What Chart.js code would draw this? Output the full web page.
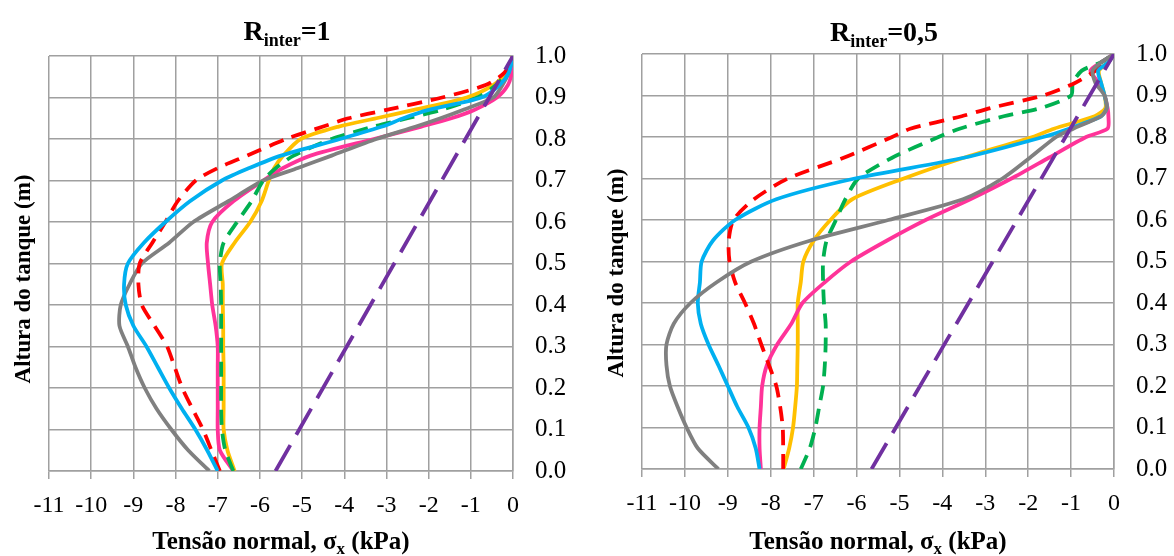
<!DOCTYPE html>
<html>
<head>
<meta charset="utf-8">
<script src="https://cdn.jsdelivr.net/npm/chart.js@4.4.0/dist/chart.umd.min.js"></script>
<style>
  body { margin: 0; background: #fff; }
  .box { position: absolute; top: 0; height: 556px; }
</style>
</head>
<body>
<div class="box" style="left:0;width:590px"><canvas id="chartLeft" width="590" height="556"></canvas></div>
<div class="box" style="left:590px;width:584px"><canvas id="chartRight" width="584" height="556"></canvas></div>
<script>
// tick labels
const xTickLabels = ['-11', '-10', '-9', '-8', '-7', '-6', '-5', '-4', '-3', '-2', '-1', '0'];
const yTickLabels = ['0.0', '0.1', '0.2', '0.3', '0.4', '0.5', '0.6', '0.7', '0.8', '0.9', '1.0'];

// R_inter = 1 (left chart): heights (m) and stress (kPa) per series
const heightsLeft = [0, 0.05, 0.1, 0.15, 0.2, 0.25, 0.3, 0.35, 0.4, 0.45, 0.5, 0.55, 0.6, 0.65, 0.7, 0.73, 0.76, 0.8, 0.83, 0.85, 0.87, 0.9, 0.93, 0.96, 1.0];
const redLeft    = [-6.95, -7.15, -7.35, -7.6, -7.84, -8.02, -8.2, -8.5, -8.8, -8.88, -8.85, -8.55, -8.24, -7.95, -7.52, -7.0, -6.3, -5.38, -4.5, -3.9, -3.0, -1.68, -0.65, -0.2, 0];
const cyanLeft   = [-7.0, -7.25, -7.53, -7.85, -8.15, -8.42, -8.69, -9.0, -9.18, -9.22, -9.13, -8.75, -8.24, -7.66, -6.9, -6.25, -5.5, -4.1, -3.1, -2.6, -2.0, -0.75, -0.32, -0.1, 0];
const grayLeft   = [-7.2, -7.7, -8.1, -8.45, -8.73, -8.95, -9.13, -9.33, -9.3, -9.09, -8.8, -8.15, -7.58, -6.75, -5.92, -5.1, -4.3, -3.24, -2.3, -1.72, -1.19, -0.47, -0.25, -0.1, 0];
const greenLeft  = [-6.63, -6.82, -6.9, -6.92, -6.92, -6.92, -6.92, -6.92, -6.92, -6.93, -6.95, -6.86, -6.54, -6.2, -5.92, -5.62, -5.2, -4.3, -3.3, -2.5, -1.7, -0.85, -0.4, -0.15, 0];
const orangeLeft = [-6.6, -6.77, -6.86, -6.86, -6.86, -6.86, -6.87, -6.87, -6.88, -6.88, -6.9, -6.6, -6.23, -5.96, -5.79, -5.66, -5.45, -5.03, -4.13, -3.24, -2.35, -1.1, -0.47, -0.15, 0];
const pinkLeft   = [-6.63, -6.95, -7.0, -7.0, -7.0, -7.0, -7.0, -7.05, -7.13, -7.18, -7.23, -7.26, -7.13, -6.63, -5.92, -5.45, -4.8, -3.3, -2.17, -1.46, -0.92, -0.38, -0.12, -0.03, 0];
const purpleLeftX = [-5.63, 0];
const purpleLeftY = [0, 1.0];

// R_inter = 0,5 (right chart)
const heightsRight = [0, 0.05, 0.1, 0.15, 0.2, 0.25, 0.3, 0.35, 0.4, 0.45, 0.5, 0.55, 0.6, 0.65, 0.7, 0.75, 0.8, 0.82, 0.85, 0.87, 0.9, 0.93, 0.96, 0.98, 1.0];
const redRight    = [-7.71, -7.71, -7.72, -7.78, -7.87, -8.04, -8.22, -8.39, -8.6, -8.83, -8.96, -8.98, -8.87, -8.39, -7.6, -6.3, -5.17, -4.75, -3.55, -2.87, -1.65, -0.91, -0.43, -0.2, 0];
const greenRight  = [-7.3, -7.09, -6.96, -6.87, -6.78, -6.74, -6.72, -6.72, -6.76, -6.78, -6.78, -6.7, -6.48, -6.26, -5.96, -5.17, -4.09, -3.6, -2.57, -1.7, -1.0, -0.96, -0.75, -0.3, 0];
const orangeRight = [-7.7, -7.57, -7.48, -7.43, -7.39, -7.38, -7.37, -7.37, -7.37, -7.3, -7.24, -7.0, -6.61, -6.1, -4.9, -3.5, -1.9, -1.4, -0.45, -0.2, -0.22, -0.3, -0.35, -0.13, 0];
const cyanRight   = [-8.26, -8.35, -8.52, -8.78, -9.0, -9.22, -9.45, -9.63, -9.7, -9.65, -9.61, -9.35, -8.83, -7.87, -6.04, -3.5, -1.65, -1.05, -0.3, -0.17, -0.22, -0.3, -0.37, -0.13, 0];
const grayRight   = [-9.22, -9.7, -9.96, -10.17, -10.35, -10.43, -10.43, -10.26, -9.87, -9.26, -8.45, -7.09, -5.26, -3.52, -2.6, -1.96, -1.35, -0.95, -0.3, -0.17, -0.22, -0.43, -0.5, -0.3, 0];
const pinkRight   = [-8.23, -8.26, -8.26, -8.23, -8.2, -8.09, -7.85, -7.52, -7.26, -6.74, -6.13, -5.3, -4.39, -3.35, -2.39, -1.52, -0.65, -0.15, -0.13, -0.15, -0.22, -0.35, -0.55, -0.3, 0];
const purpleRightX = [-5.65, 0];
const purpleRightY = [0, 1.0];

const RED = '#FF0000', GREEN = '#00B050', ORANGE = '#FFC000', CYAN = '#00B0F0',
      PINK = '#FF3399', GRAY = '#808080', PURPLE = '#7030A0';
const GRID = 'rgb(160,160,160)';
const SERIF = '"Liberation Serif", "Times New Roman", serif';

function series(label, xs, ys, color, dash) {
    return {
        label: label,
        data: ys.map((h, i) => ({ x: xs[i], y: h })),
        showLine: true,
        borderColor: color,
        backgroundColor: color,
        borderWidth: 3.8,
        borderDash: dash || [],
        borderCapStyle: 'butt',
        borderJoinStyle: 'round',
        pointRadius: 0,
        pointHoverRadius: 0,
        tension: 0.25,
        fill: false
    };
}

// draws titles with subscripts (Chart.js titles can't do <sub>)
const richTextPlugin = {
    id: 'richText',
    afterDraw(chart, args, opts) {
        const ctx = chart.ctx;
        const area = chart.chartArea;
        (opts.items || []).forEach(item => {
            ctx.save();
            ctx.fillStyle = '#000';
            ctx.textBaseline = 'alphabetic';
            let total = 0;
            item.parts.forEach(p => {
                ctx.font = `bold ${p.size}px ${SERIF}`;
                p.w = ctx.measureText(p.text).width;
                total += p.w;
            });
            const x = item.rotate ? item.x : (area.left + area.right) / 2 + (item.dx || 0);
            ctx.translate(x, item.y);
            if (item.rotate) ctx.rotate(-Math.PI / 2);
            let pos = -total / 2;
            item.parts.forEach(p => {
                ctx.font = `bold ${p.size}px ${SERIF}`;
                ctx.fillText(p.text, pos, p.dy || 0);
                pos += p.w;
            });
            ctx.restore();
        });
    }
};

function makeChart(canvasId, datasets, layout, titleText) {
    new Chart(document.getElementById(canvasId), {
        type: 'scatter',
        data: { datasets: datasets },
        options: {
            responsive: false,
            animation: false,
            events: [],
            layout: { padding: { top: layout.top, left: 0, right: 0, bottom: 0 } },
            plugins: {
                legend: { display: false },
                tooltip: { enabled: false },
                richText: {
                    items: [
                        { parts: [{ text: 'R', size: 28 }, { text: 'inter', size: 18, dy: 6 }, { text: titleText, size: 28 }], dx: 6, y: layout.titleY },
                        { parts: [{ text: 'Tensão normal, σ', size: 25 }, { text: 'x', size: 17, dy: 5 }, { text: ' (kPa)', size: 25 }], dx: 0, y: 549 },
                        { parts: [{ text: 'Altura do tanque (m)', size: 23 }], rotate: true, x: layout.yTitleX, y: layout.yTitleY }
                    ]
                }
            },
            scales: {
                x: {
                    type: 'linear',
                    position: 'bottom',
                    min: -11,
                    max: 0,
                    ticks: {
                        stepSize: 1,
                        color: '#000',
                        padding: 12,
                        maxRotation: 0,
                        font: { family: SERIF, size: 24 },
                        callback: (v, i) => xTickLabels[i]
                    },
                    grid: { color: GRID, lineWidth: 1.5, tickLength: 8 },
                    border: { color: GRID, width: 1.5 },
                    afterFit: s => { s.height = layout.xHeight; }
                },
                y: {
                    type: 'linear',
                    position: 'right',
                    min: 0,
                    max: 1,
                    ticks: {
                        stepSize: 0.1,
                        color: '#000',
                        padding: 22,
                        font: { family: SERIF, size: 25 },
                        callback: (v, i) => yTickLabels[i]
                    },
                    grid: { color: GRID, lineWidth: 1.5, drawTicks: false },
                    border: { color: GRID, width: 1.5 },
                    afterFit: s => { s.width = layout.yWidth; }
                },
                yTitle: {
                    type: 'linear',
                    position: 'left',
                    min: 0,
                    max: 1,
                    ticks: { display: false },
                    grid: { display: false },
                    border: { display: false },
                    afterFit: s => { s.width = layout.leftWidth; }
                }
            }
        },
        plugins: [richTextPlugin]
    });
}

makeChart('chartLeft', [
    series('Purple', purpleLeftX, purpleLeftY, PURPLE, [30, 12]),
    series('Cyan', cyanLeft, heightsLeft, CYAN),
    series('Red', redLeft, heightsLeft, RED, [15, 9]),
    series('Green', greenLeft, heightsLeft, GREEN, [15, 9]),
    series('Gray', grayLeft, heightsLeft, GRAY),
    series('Pink', pinkLeft, heightsLeft, PINK),
    series('Orange', orangeLeft, heightsLeft, ORANGE)
], { top: 56, xHeight: 85, yWidth: 77, leftWidth: 49, titleY: 40, yTitleX: 30, yTitleY: 279 }, '=1');

makeChart('chartRight', [
    series('Purple', purpleRightX, purpleRightY, PURPLE, [30, 12]),
    series('Gray', grayRight, heightsRight, GRAY),
    series('Cyan', cyanRight, heightsRight, CYAN),
    series('Red', redRight, heightsRight, RED, [15, 9]),
    series('Green', greenRight, heightsRight, GREEN, [15, 9]),
    series('Pink', pinkRight, heightsRight, PINK),
    series('Orange', orangeRight, heightsRight, ORANGE)
], { top: 54, xHeight: 87, yWidth: 60, leftWidth: 52, titleY: 41, yTitleX: 33, yTitleY: 273 }, '=0,5');
</script>
</body>
</html>
